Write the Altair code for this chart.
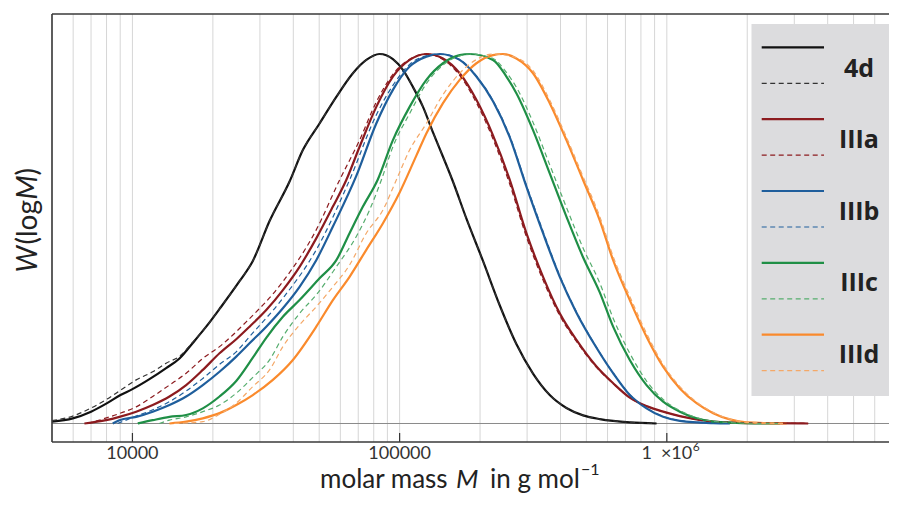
import altair as alt
import pandas as pd

SERIES = ["4d", "IIIa", "IIIb", "IIIc", "IIId"]
SOLID_COLORS = ["#111111", "#8c1b1f", "#1f5e9c", "#1f8f46", "#fa8a2c"]
DASHED_COLORS = ["#333333", "#8c1b1f", "#1f5e9c", "#56ad6e", "#f4a868"]

# ---- 4d ----
M_4D = [5000, 5980, 7000, 8040, 9020, 10000, 11580, 13370, 15000, 16820, 18880, 21180, 25160, 28220, 32600,
        38730, 43430, 50160, 57950, 66860, 75050, 84190, 94380, 102900, 112100, 122300, 133300, 145300, 158300,
        177700, 205100, 236900, 273500, 315700, 364600, 421000, 485900, 561100, 629500, 726800, 915000]
W_4D = [0.005, 0.014, 0.032, 0.055, 0.077, 0.093, 0.12, 0.15, 0.176, 0.218, 0.262, 0.31, 0.385, 0.44, 0.548,
        0.655, 0.74, 0.812, 0.884, 0.948, 0.984, 1.0, 0.986, 0.957, 0.911, 0.857, 0.788, 0.722, 0.655,
        0.555, 0.44, 0.32, 0.215, 0.135, 0.077, 0.042, 0.022, 0.012, 0.007, 0.003, 0.0]
M_4D_FIT = [5000, 5980, 7000, 8040, 9020, 10330, 11910, 13370, 15000, 16820, 18880, 21180, 25160, 28220, 32600,
            38730, 43430, 50160, 57950, 66860, 75050, 84190, 94380, 102900, 112100, 122300, 133300, 145300, 158300,
            177700, 205100, 236900, 273500, 315700, 364600, 421000, 485900, 561100, 629500, 726800, 915000]
W_4D_FIT = [0.008, 0.02, 0.042, 0.066, 0.09, 0.118, 0.14, 0.163, 0.182, 0.22, 0.262, 0.31, 0.385, 0.44, 0.548,
            0.655, 0.74, 0.812, 0.884, 0.948, 0.984, 1.0, 0.986, 0.957, 0.911, 0.857, 0.788, 0.722, 0.655,
            0.555, 0.44, 0.32, 0.215, 0.135, 0.077, 0.042, 0.022, 0.012, 0.007, 0.003, 0.0]

# ---- IIIa ----
M_IIIA = [6610, 7970, 8940, 10330, 11910, 13760, 15890, 18340, 21180, 24460, 27430, 31680, 36560, 42220, 48750,
          56270, 63150, 70830, 81780, 94380, 109000, 125900, 145300, 167800, 193800, 223600, 258200, 298200,
          344200, 397500, 459000, 545600, 629500, 726800, 839500, 968500, 1119000, 1292000, 1491000, 1989000, 3382000]
W_IIIA = [0.0, 0.009, 0.018, 0.032, 0.05, 0.073, 0.104, 0.145, 0.19, 0.228, 0.262, 0.307, 0.361, 0.424, 0.501,
          0.587, 0.659, 0.749, 0.857, 0.939, 0.984, 1.0, 0.988, 0.948, 0.876, 0.78, 0.66, 0.515,
          0.397, 0.298, 0.226, 0.154, 0.109, 0.07, 0.047, 0.032, 0.02, 0.011, 0.005, 0.001, 0.0]
M_IIIA_FIT = [6800, 8940, 10330, 11910, 13760, 15890, 18340, 21180, 26660, 36560, 48750, 59620, 70830, 81780,
              94380, 109000, 125900, 145300, 167800, 193800, 223600, 258200, 298200, 344200, 397500, 459000,
              545600, 629500, 726800, 839500, 968500, 1119000, 1491000, 3382000]
W_IIIA_FIT = [0.0, 0.027, 0.045, 0.073, 0.104, 0.136, 0.176, 0.208, 0.275, 0.384, 0.524, 0.659, 0.767, 0.87,
              0.945, 0.986, 1.0, 0.985, 0.942, 0.868, 0.77, 0.648, 0.505, 0.388, 0.292, 0.222,
              0.152, 0.108, 0.07, 0.047, 0.032, 0.02, 0.005, 0.0]

# ---- IIIb ----
M_IIIB = [8440, 8940, 10330, 11910, 13760, 15890, 18340, 21180, 24460, 27430, 31680, 36560, 42220, 48750, 56270,
          68840, 81780, 94380, 109000, 125900, 141200, 167800, 193800, 223600, 258200, 298200, 344200, 397500,
          459000, 545600, 629500, 726800, 839500, 968500, 1119000, 1491000, 1722000]
W_IIIB = [0.0, 0.009, 0.018, 0.032, 0.05, 0.073, 0.104, 0.14, 0.181, 0.217, 0.262, 0.312, 0.37, 0.442, 0.533,
          0.67, 0.812, 0.903, 0.966, 0.993, 1.0, 0.984, 0.939, 0.872, 0.775, 0.641, 0.515, 0.397,
          0.3, 0.205, 0.136, 0.077, 0.041, 0.018, 0.007, 0.001, 0.0]
M_IIIB_FIT = [8800, 10330, 11910, 13760, 15890, 18340, 21180, 24460, 27430, 36560, 48750, 64960, 81780, 94380,
              109000, 125900, 141200, 167800, 193800, 223600, 258200, 298200, 344200, 397500, 459000, 545600,
              629500, 726800, 839500, 968500, 1119000, 1491000, 1722000]
W_IIIB_FIT = [0.0, 0.02, 0.037, 0.059, 0.088, 0.122, 0.16, 0.194, 0.235, 0.339, 0.47, 0.659, 0.835, 0.915,
              0.972, 0.995, 1.0, 0.985, 0.94, 0.874, 0.778, 0.645, 0.52, 0.4, 0.302, 0.206,
              0.137, 0.078, 0.042, 0.019, 0.008, 0.001, 0.0]

# ---- IIIc ----
M_IIIC = [10470, 11910, 13760, 15890, 18340, 21180, 24460, 28220, 31680, 36560, 42220, 50160, 57950, 64960, 72880,
          82700, 94380, 109000, 125900, 145300, 167800, 182900, 223600, 251000, 273500, 315700, 364600, 421000,
          485900, 561100, 629500, 726800, 839500, 968500, 1119000, 1292000, 1491000, 1989000, 2650000]
W_IIIC = [0.0, 0.009, 0.018, 0.023, 0.041, 0.073, 0.115, 0.178, 0.232, 0.289, 0.334, 0.393, 0.442, 0.515, 0.587,
          0.659, 0.767, 0.857, 0.93, 0.975, 0.997, 1.0, 0.984, 0.939, 0.894, 0.794, 0.677, 0.56,
          0.45, 0.355, 0.262, 0.172, 0.104, 0.059, 0.032, 0.014, 0.005, 0.001, 0.0]
M_IIIC_FIT = [12600, 13760, 15890, 18340, 21180, 24460, 28220, 32600, 36560, 42220, 48750, 57950, 68840, 77190,
              85440, 94380, 109000, 125900, 145300, 167800, 182900, 223600, 251000, 273500, 315700, 364600,
              421000, 485900, 561100, 629500, 726800, 839500, 968500, 1119000, 1292000, 1491000, 1989000, 2650000]
W_IIIC_FIT = [0.0, 0.009, 0.018, 0.032, 0.05, 0.082, 0.125, 0.172, 0.235, 0.298, 0.348, 0.424, 0.506, 0.578,
              0.659, 0.749, 0.839, 0.92, 0.97, 0.995, 1.0, 0.988, 0.95, 0.91, 0.815, 0.7,
              0.585, 0.475, 0.38, 0.285, 0.19, 0.115, 0.065, 0.035, 0.016, 0.006, 0.001, 0.0]

# ---- IIId ----
M_IIID = [13760, 15890, 18340, 21180, 24460, 28220, 33540, 39850, 48750, 56270, 64960, 75050, 86630, 100000,
          115500, 125900, 145300, 167800, 193800, 223600, 243700, 273500, 315700, 364600, 421000, 485900,
          561100, 629500, 726800, 839500, 968500, 1119000, 1292000, 1491000, 1722000, 1989000, 2807000]
W_IIID = [0.0, 0.005, 0.014, 0.028, 0.05, 0.077, 0.118, 0.172, 0.262, 0.334, 0.397, 0.47, 0.542, 0.625,
          0.725, 0.785, 0.867, 0.93, 0.975, 0.997, 1.0, 0.988, 0.948, 0.867, 0.767, 0.659,
          0.55, 0.442, 0.334, 0.235, 0.154, 0.095, 0.055, 0.028, 0.011, 0.003, 0.0]
M_IIID_FIT = [14350, 18340, 21180, 24460, 28220, 32600, 36560, 42220, 48750, 56270, 64960, 75050, 86630, 97180,
              109000, 125900, 145300, 167800, 193800, 223600, 273500, 315700, 364600, 421000, 485900, 561100,
              629500, 726800, 839500, 968500, 1119000, 1292000, 1491000, 1722000, 1989000, 2807000]
W_IIID_FIT = [0.0, 0.005, 0.025, 0.055, 0.1, 0.145, 0.208, 0.267, 0.316, 0.37, 0.429, 0.515, 0.578, 0.659,
              0.74, 0.812, 0.89, 0.948, 0.985, 1.0, 0.99, 0.955, 0.875, 0.775, 0.668, 0.56,
              0.452, 0.344, 0.244, 0.16, 0.1, 0.058, 0.03, 0.012, 0.003, 0.0]

GRID_VALUES = [5000, 6000, 7000, 8000, 9000, 10000, 20000, 30000, 40000, 50000, 60000, 70000, 80000, 90000,
               100000, 200000, 300000, 400000, 500000, 600000, 700000, 800000, 900000, 1000000, 2000000,
               3000000, 4000000, 5000000, 6000000]
MAJOR_TICKS = [10000, 100000, 1000000]
MAJOR_LABELS = ["10000", "100000", "1\u2002\u00d710"]
SCI_EXPONENT = "6"

Y_TITLE_PARTS = ["W", "(log", "M", ")"]
X_TITLE_PARTS = ["molar mass", "M", "in g mol", "\u22121"]

X_DOMAIN = [5000, 6785000]
Y_DOMAIN = [-0.0501, 1.1083]
PW, PH = 837, 428

curves = [
    ("4d", M_4D, W_4D, M_4D_FIT, W_4D_FIT),
    ("IIIa", M_IIIA, W_IIIA, M_IIIA_FIT, W_IIIA_FIT),
    ("IIIb", M_IIIB, W_IIIB, M_IIIB_FIT, W_IIIB_FIT),
    ("IIIc", M_IIIC, W_IIIC, M_IIIC_FIT, W_IIIC_FIT),
    ("IIId", M_IIID, W_IIID, M_IIID_FIT, W_IIID_FIT),
]
solid_rows, dashed_rows = [], []
for name, ms, ws, mf, wf in curves:
    for m, w in zip(ms, ws):
        solid_rows.append({"series": name, "M": m, "W": w})
    for m, w in zip(mf, wf):
        dashed_rows.append({"series": name, "M": m, "W": w})
df_solid = pd.DataFrame(solid_rows)
df_dashed = pd.DataFrame(dashed_rows)

x_scale = alt.Scale(type="log", domain=X_DOMAIN, nice=False)
y_scale = alt.Scale(domain=Y_DOMAIN, nice=False, zero=False)

one = pd.DataFrame({"k": [0]})

grid = alt.Chart(pd.DataFrame({"M": GRID_VALUES})).mark_rule(color="#d6d6d6", strokeWidth=1).encode(
    x=alt.X("M:Q", scale=x_scale, axis=None), y=alt.value(0), y2=alt.value(PH))

zero = alt.Chart(pd.DataFrame({"W": [0.0]})).mark_rule(color="#8a8a8a", strokeWidth=1).encode(
    y=alt.Y("W:Q", scale=y_scale, axis=None), x=alt.value(0), x2=alt.value(PW))

solid = alt.Chart(df_solid).mark_line(strokeWidth=2.2, interpolate="monotone").encode(
    x=alt.X("M:Q", scale=x_scale, axis=None),
    y=alt.Y("W:Q", scale=y_scale, axis=None),
    color=alt.Color("series:N", scale=alt.Scale(domain=SERIES, range=SOLID_COLORS), legend=None),
)
dashed = alt.Chart(df_dashed).mark_line(strokeWidth=1.2, strokeDash=[5, 3.5], interpolate="monotone").encode(
    x=alt.X("M:Q", scale=x_scale, axis=None),
    y=alt.Y("W:Q", scale=y_scale, axis=None),
    color=alt.Color("series:N", scale=alt.Scale(domain=SERIES, range=DASHED_COLORS), legend=None),
)

ticks = alt.Chart(pd.DataFrame({"M": MAJOR_TICKS})).mark_rule(color="#333333", strokeWidth=1.2).encode(
    x=alt.X("M:Q", scale=x_scale, axis=None), y=alt.value(PH - 9), y2=alt.value(PH))

tick_labels = alt.Chart(pd.DataFrame({"M": MAJOR_TICKS, "lab": MAJOR_LABELS})).mark_text(
    font="Lato", fontSize=18, align="center", baseline="alphabetic", color="#333333").encode(
    x=alt.X("M:Q", scale=x_scale, axis=None), y=alt.value(PH + 17), text="lab:N")
sci_exp = alt.Chart(pd.DataFrame({"M": [MAJOR_TICKS[-1]], "lab": [SCI_EXPONENT]})).mark_text(
    font="Lato", fontSize=12, align="left", baseline="alphabetic", color="#333333", dx=26).encode(
    x=alt.X("M:Q", scale=x_scale, axis=None), y=alt.value(PH + 9), text="lab:N")

frame_left = alt.Chart(one).mark_rule(color="#3a3a3a", strokeWidth=1.6).encode(
    x=alt.value(0), y=alt.value(0), y2=alt.value(PH))
frame_top = alt.Chart(one).mark_rule(color="#3a3a3a", strokeWidth=1.6).encode(
    x=alt.value(0), x2=alt.value(PW), y=alt.value(0))
frame_bottom = alt.Chart(one).mark_rule(color="#3a3a3a", strokeWidth=1.6).encode(
    x=alt.value(0), x2=alt.value(PW), y=alt.value(PH))

leg_df = pd.DataFrame({"name": SERIES, "i": list(range(len(SERIES))),
                       "solid": SOLID_COLORS, "dashed": DASHED_COLORS})
leg_bg = alt.Chart(one).mark_rect(color="#dcdcde").encode(
    x=alt.value(699.5), x2=alt.value(PW), y=alt.value(10), y2=alt.value(382))
leg_solid = alt.Chart(leg_df).mark_rule(strokeWidth=2.2).transform_calculate(
    ys="33.3 + 71.85 * datum.i").encode(
    x=alt.value(709.7), x2=alt.value(772), y=alt.Y("ys:Q", scale=None, axis=None),
    color=alt.Color("solid:N", scale=None, legend=None))
leg_dashed = alt.Chart(leg_df).mark_rule(strokeWidth=1.2, strokeDash=[5, 3.5]).transform_calculate(
    ys="69.3 + 71.85 * datum.i").encode(
    x=alt.value(709.7), x2=alt.value(772), y=alt.Y("ys:Q", scale=None, axis=None),
    color=alt.Color("dashed:N", scale=None, legend=None))
leg_text = alt.Chart(leg_df).mark_text(font="Open Sans", fontWeight="bold", fontSize=25, align="center",
                                       baseline="middle", color="#222222").transform_calculate(
    yt="54.5 + 71.6 * datum.i").encode(
    x=alt.value(807), y=alt.Y("yt:Q", scale=None, axis=None), text="name:N")


def text_part(txt, x, y, italic=False, size=28, angle=0):
    kw = dict(font="Lato", fontSize=size, align="left", baseline="alphabetic", color="#222222")
    if italic:
        kw["fontStyle"] = "italic"
    if angle:
        kw["angle"] = angle
    return alt.Chart(pd.DataFrame({"t": [txt]})).mark_text(**kw).encode(
        x=alt.value(x), y=alt.value(y), text="t:N")


ytitle = [
    text_part(Y_TITLE_PARTS[0], -15, 258.5, italic=True, angle=270),
    text_part(Y_TITLE_PARTS[1], -15, 230.5, angle=270),
    text_part(Y_TITLE_PARTS[2], -15, 185.5, italic=True, angle=270),
    text_part(Y_TITLE_PARTS[3], -15, 161.5, angle=270),
]
xtitle = [
    text_part(X_TITLE_PARTS[0], 268, 474, size=26),
    text_part(X_TITLE_PARTS[1], 404, 474, italic=True, size=26),
    text_part(X_TITLE_PARTS[2], 438, 474, size=26),
    text_part(X_TITLE_PARTS[3], 529, 461, size=16),
]

chart = alt.layer(
    grid, zero, solid, dashed, ticks, tick_labels, sci_exp, leg_bg, leg_solid, leg_dashed, leg_text,
    frame_left, frame_top, frame_bottom, *ytitle, *xtitle
).resolve_scale(color="independent").properties(
    width=PW, height=PH,
    autosize=alt.AutoSizeParams(type="none"),
    padding={"left": 44, "top": 6, "right": 0, "bottom": 52},
).configure_view(stroke=None)

chart.save("out.html", embed_options={"renderer": "svg", "actions": False})
